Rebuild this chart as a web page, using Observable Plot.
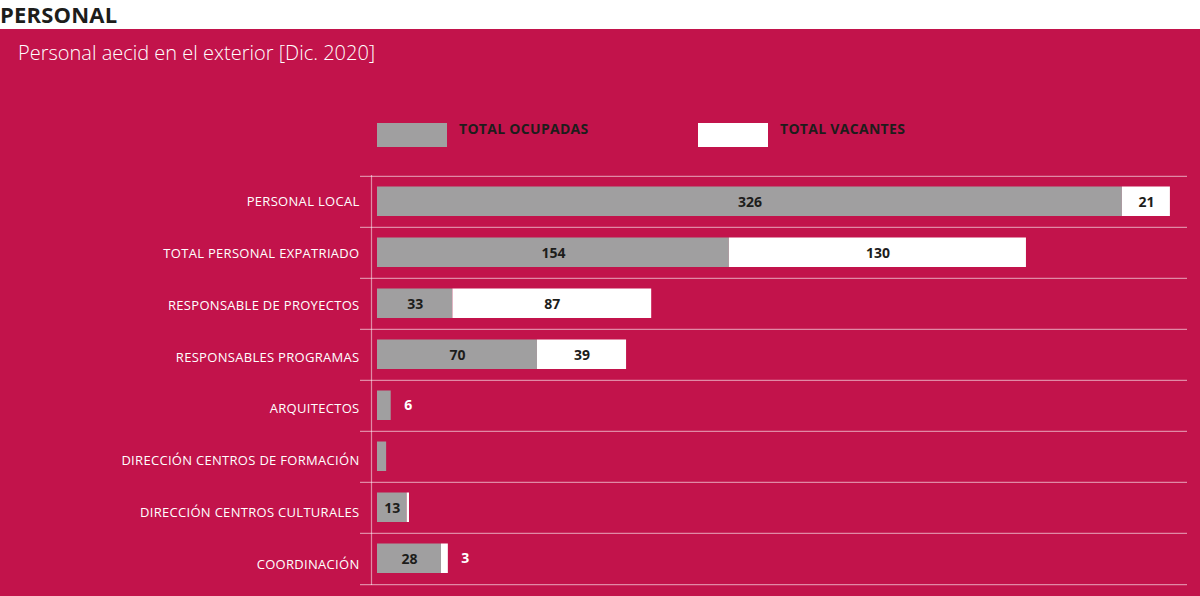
<!DOCTYPE html>
<html><head><meta charset="utf-8">
<script src="https://cdn.jsdelivr.net/npm/d3@7"></script>
<script src="https://cdn.jsdelivr.net/npm/@observablehq/plot@0.6"></script>
<style>
body{margin:0;background:#fff;font-family:"Open Sans",sans-serif;}
#wrap{position:relative;width:1200px;height:596px;overflow:hidden;background:#fff;}
#header{position:absolute;left:0;top:4px;font-weight:700;font-size:22px;line-height:21px;color:#1d1d1b;white-space:nowrap;letter-spacing:0.2px;}
#panel{position:absolute;left:0;top:29px;width:1200px;height:567px;background:#C2134B;}
#subtitle{position:absolute;left:18px;top:43px;font-weight:300;font-size:20px;line-height:20px;color:#fff;white-space:nowrap;}
.sw{position:absolute;top:123px;width:70px;height:24px;}
.lt{position:absolute;top:122px;font-weight:700;font-size:14px;line-height:14px;color:#1d1d1b;white-space:nowrap;letter-spacing:0.3px;}
#chart{position:absolute;left:0;top:169px;}
</style>
</head><body>
<div id="wrap">
  <div id="header"></div>
  <div id="panel"></div>
  <div id="subtitle"></div>
  <div id="legend"></div>
  <div id="chart"></div>
</div>
<script>
const headerText = "PERSONAL";
const subtitleText = "Personal aecid en el exterior [Dic. 2020]";
const categories = [
  "PERSONAL LOCAL",
  "TOTAL PERSONAL EXPATRIADO",
  "RESPONSABLE DE PROYECTOS",
  "RESPONSABLES PROGRAMAS",
  "ARQUITECTOS",
  "DIRECCIÓN CENTROS DE FORMACIÓN",
  "DIRECCIÓN CENTROS CULTURALES",
  "COORDINACIÓN"
];
const series = ["TOTAL OCUPADAS", "TOTAL VACANTES"];
const ocupadas = [326, 154, 33, 70, 6, 4, 13, 28];
const vacantes = [21, 130, 87, 39, 0, 0, 1, 3];
// where each value label is shown: inside the bar, outside after it, or not at all
const ocupadasLabel = ["in", "in", "in", "in", "out", "none", "in", "in"];
const vacantesLabel = ["in", "in", "in", "in", "none", "none", "none", "out"];
const colors = ["#A09FA0", "#FFFFFF"];

document.getElementById("header").textContent = headerText;
document.getElementById("subtitle").textContent = subtitleText;
const legend = document.getElementById("legend");
const legendX = [[377, 459], [698, 780]];
series.forEach((s, i) => {
  const sw = document.createElement("div");
  sw.className = "sw"; sw.style.left = legendX[i][0] + "px"; sw.style.background = colors[i];
  legend.appendChild(sw);
  const t = document.createElement("div");
  t.className = "lt"; t.style.left = legendX[i][1] + "px"; t.textContent = s;
  legend.appendChild(t);
});

const rows = categories.flatMap((c, i) => [
  {cat: c, serie: series[0], value: ocupadas[i], label: ocupadasLabel[i]},
  {cat: c, serie: series[1], value: vacantes[i], label: vacantesLabel[i]}
]);

const W = 1200, H = 420, mt = 6, mb = 4;
const step = (H - mt - mb) / categories.length;
const x0 = 377, ppu = 2.285, xmax = 360;
const gridColor = "rgba(255,255,255,0.5)";
const labelDrift = 0.8; // category labels sit on a slightly wider pitch than the bars

const plot = Plot.plot({
  width: W, height: H,
  marginLeft: 360, marginRight: 13, marginTop: mt, marginBottom: mb,
  style: {background: "transparent", fontFamily: "'Open Sans', sans-serif", overflow: "visible"},
  x: {domain: [0, xmax], range: [x0, x0 + xmax * ppu], axis: null},
  y: {domain: categories, padding: 0, axis: null},
  color: {domain: series, range: colors},
  marks: [
    Plot.ruleY(categories, {y: d => d, dy: -step / 2, stroke: gridColor, strokeWidth: 1.2}),
    Plot.ruleY([categories[categories.length - 1]], {y: d => d, dy: step / 2, stroke: gridColor, strokeWidth: 1.2}),
    Plot.ruleX([0], {dx: -6, stroke: gridColor, strokeWidth: 1.2}),
    Plot.barX(rows, Plot.stackX({x: "value", y: "cat", fill: "serie", insetTop: 10.5, insetBottom: 11})),
    Plot.text(rows, Plot.stackX({x: "value", y: "cat", text: d => d.label === "in" ? String(d.value) : "", fill: "#1d1d1b", fontWeight: 700, fontSize: 14, dy: 1})),
    Plot.text(rows, Plot.stackX2({x: "value", y: "cat", text: d => d.label === "out" ? String(d.value) : "", textAnchor: "start", dx: 13, fill: "#fff", fontWeight: 700, fontSize: 14})),
    ...categories.map((c, i) => Plot.text([c], {
      y: d => d, text: d => d, frameAnchor: "left", textAnchor: "end", dx: -1, dy: i * labelDrift,
      fill: "#fff", fontSize: 13, style: "letter-spacing:0.3px"
    }))
  ]
});
plot.querySelectorAll("text").forEach(t => {
  if (categories.includes(t.textContent)) t.style.letterSpacing = "0.3px";
});
document.getElementById("chart").appendChild(plot);
</script>
</body></html>
